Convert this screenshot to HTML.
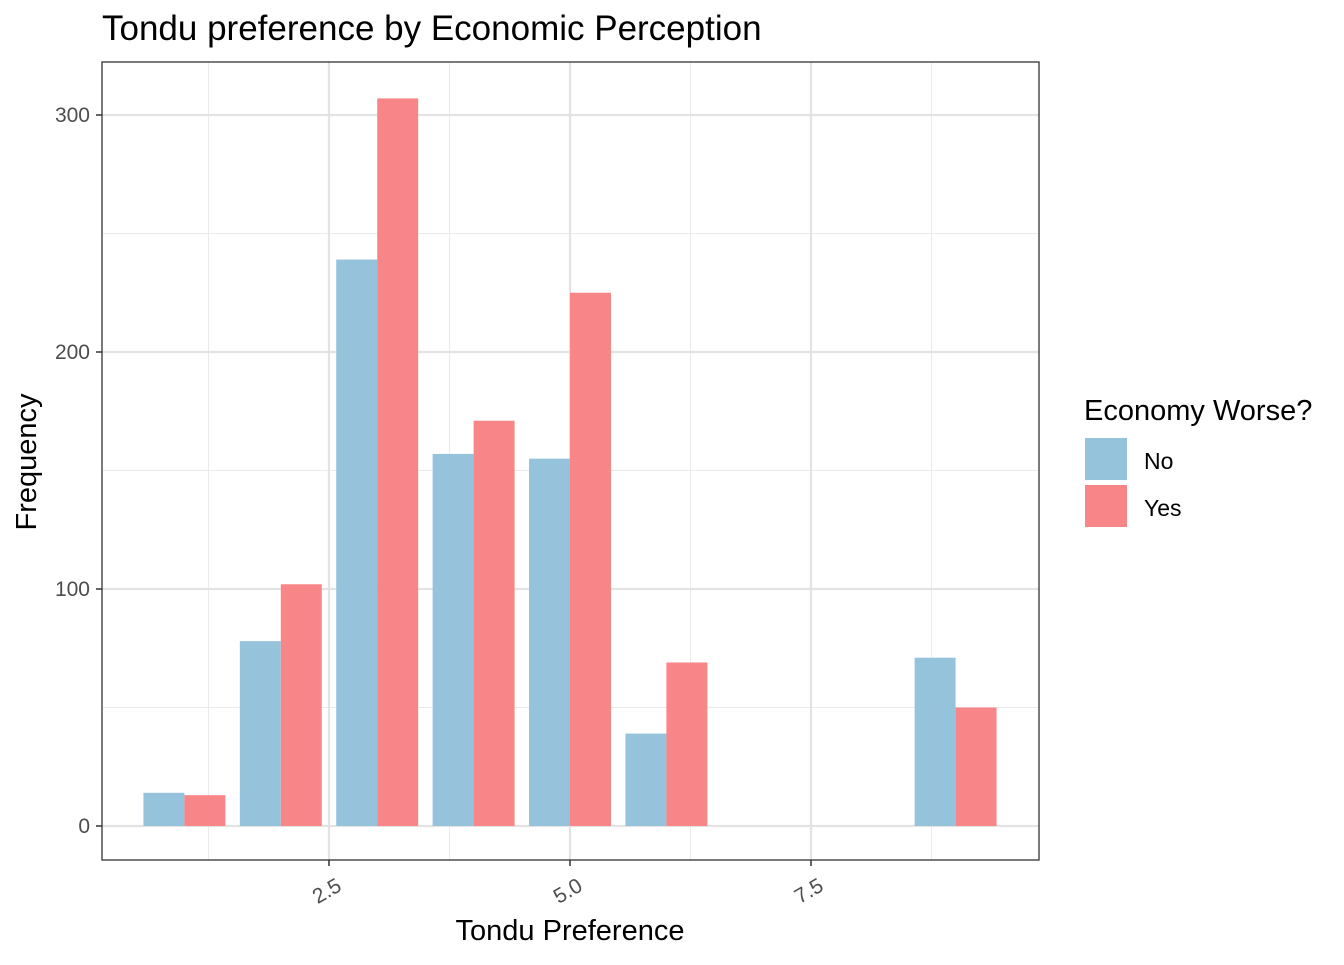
<!DOCTYPE html>
<html><head><meta charset="utf-8"><style>
body{margin:0;background:#fff;}
svg text{font-family:"Liberation Sans",Arial,sans-serif;}
</style></head><body>
<svg id="chart" width="1344" height="960" xmlns="http://www.w3.org/2000/svg">
<rect x="0" y="0" width="1344" height="960" fill="#fff"/>
<g id="grid"></g><g id="bars"></g><g id="axes"></g>
<text x="102" y="40" font-size="35" fill="#000">Tondu preference by Economic Perception</text>
<text x="570" y="940" font-size="29" text-anchor="middle" fill="#000">Tondu Preference</text>
<text transform="translate(36,462) rotate(-90)" font-size="29" text-anchor="middle" fill="#000">Frequency</text>
<g>
<text x="1084" y="420" font-size="29" fill="#000">Economy Worse?</text>
<rect x="1085" y="438" width="42" height="42" fill="#96c3dc"/>
<text x="1144" y="469" font-size="23" fill="#000">No</text>
<rect x="1085" y="485" width="42" height="42" fill="#f88587"/>
<text x="1144" y="516" font-size="23" fill="#000">Yes</text>
</g>
</svg>
<script>
const categories=[1,2,3,4,5,6,9];
const valuesNo=[14,78,239,157,155,39,71];
const valuesYes=[13,102,307,171,225,69,50];
const xTicks=[2.5,5.0,7.5];
const xTickLabels=["2.5","5.0","7.5"];
const xMinor=[1.25,3.75,6.25,8.75];
const yTicks=[0,100,200,300];
const yMinor=[50,150,250];
const NS="http://www.w3.org/2000/svg";
const L=102,R=1039,T=62,B=860;
const xs=v=>184.4+(v-1)*96.4;
const ys=v=>826-v*2.37;
function mk(tag,attrs,parent,text){const e=document.createElementNS(NS,tag);for(const k in attrs)e.setAttribute(k,attrs[k]);if(text!==undefined)e.textContent=text;parent.appendChild(e);return e;}
const grid=document.getElementById('grid'),bars=document.getElementById('bars'),axes=document.getElementById('axes');
xMinor.forEach(v=>{const l=mk('line',{x1:xs(v),x2:xs(v),y1:T,y2:B,stroke:'#ebebeb','stroke-width':1},grid);

});
yMinor.forEach(v=>{const l=mk('line',{x1:L,x2:R,y1:ys(v),y2:ys(v),stroke:'#ebebeb','stroke-width':1},grid);

});
xTicks.forEach(v=>{const l=mk('line',{x1:xs(v),x2:xs(v),y1:T,y2:B,stroke:'#e3e3e3','stroke-width':2.2},grid);

});
yTicks.forEach(v=>{const l=mk('line',{x1:L,x2:R,y1:ys(v),y2:ys(v),stroke:'#e3e3e3','stroke-width':2.2},grid);

});
const hw=0.425*96.4;
categories.forEach((c,i)=>{
 const cx=xs(c);
 const b1=mk('rect',{x:cx-hw,y:ys(valuesNo[i]),width:hw,height:ys(0)-ys(valuesNo[i]),fill:'#96c3dc'},bars);
 
 
 const b2=mk('rect',{x:cx,y:ys(valuesYes[i]),width:hw,height:ys(0)-ys(valuesYes[i]),fill:'#f88587'},bars);
 
 
});
const p=mk('rect',{x:L,y:T,width:R-L,height:B-T,fill:'none',stroke:'#333','stroke-width':1.3},axes);


yTicks.forEach(v=>{
 const t=mk('line',{x1:L-6,x2:L,y1:ys(v),y2:ys(v),stroke:'#333','stroke-width':1.5},axes);
 
 
 const s=mk('text',{x:L-12,y:ys(v)+7,'font-size':21,'text-anchor':'end',fill:'#4d4d4d'},axes,String(v));
 
 
});
xTicks.forEach((v,i)=>{
 const t=mk('line',{x1:xs(v),x2:xs(v),y1:B,y2:B+6,stroke:'#333','stroke-width':1.5},axes);
 
 
 const s=mk('text',{transform:'translate('+(xs(v)+6)+','+(B+16)+') rotate(-30)','font-size':21,'text-anchor':'end',fill:'#4d4d4d',dy:'0.75em'},axes,xTickLabels[i]);
 
 
});
</script>
</body></html>
